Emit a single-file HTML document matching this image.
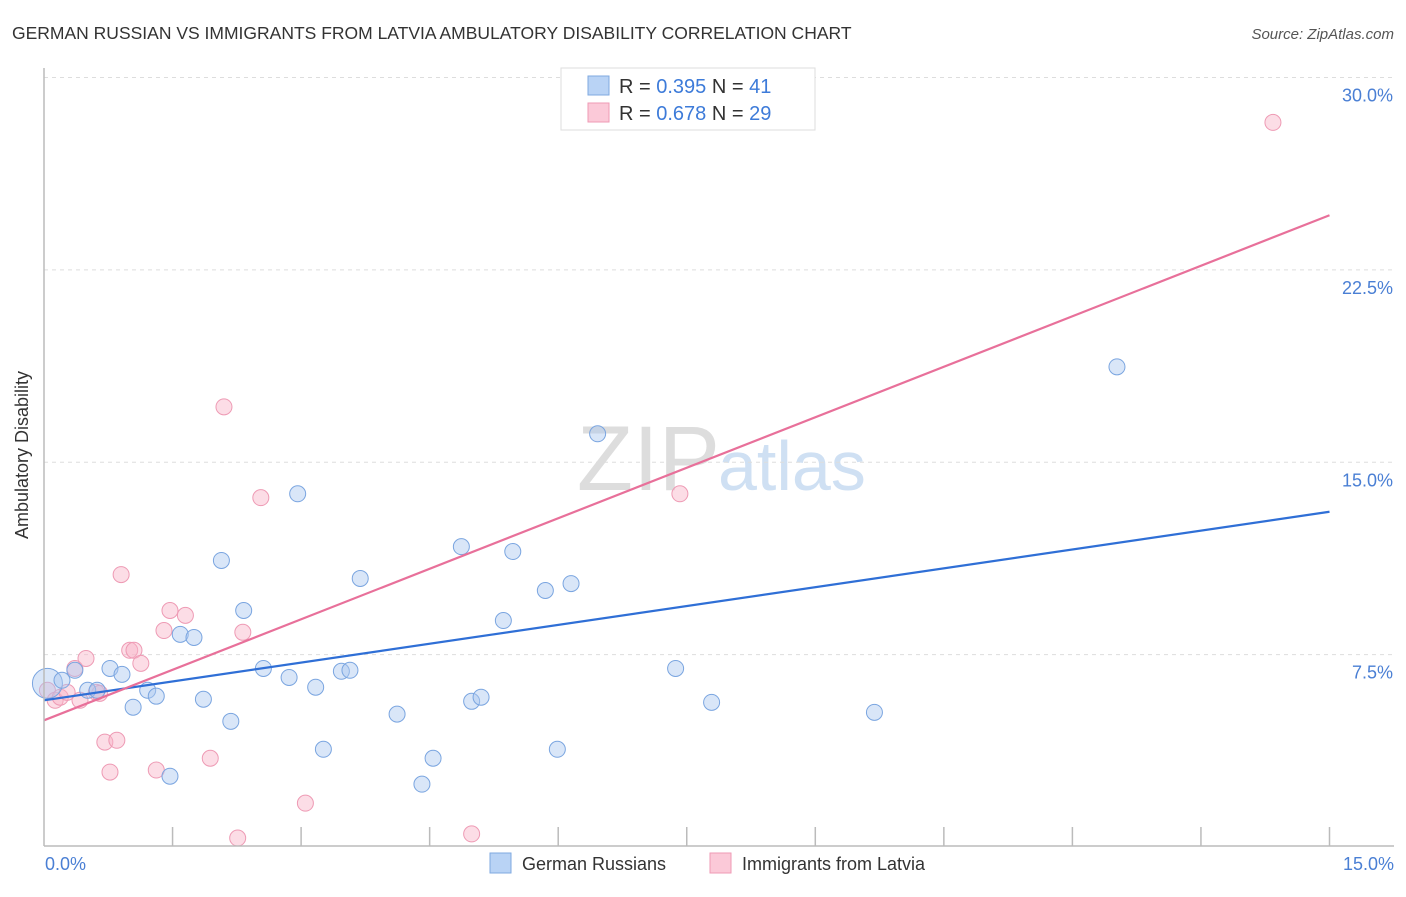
<!DOCTYPE html>
<html><head><meta charset="utf-8"><style>
body{margin:0;background:#fff;font-family:"Liberation Sans",sans-serif}
svg text{font-family:"Liberation Sans",sans-serif}
</style></head><body>
<svg id="c" width="1406" height="892">
<text x="12" y="39" font-size="17.5" fill="#333">GERMAN RUSSIAN VS IMMIGRANTS FROM LATVIA AMBULATORY DISABILITY CORRELATION CHART</text>
<text x="1394" y="39" font-size="15" fill="#555" font-style="italic" text-anchor="end">Source: ZipAtlas.com</text>
<text x="720" y="490" font-size="92" fill="#ddd" text-anchor="end" font-family="Liberation Serif">ZIP</text>
<text x="718" y="490" font-size="70" fill="#cfe0f3">atlas</text>
<g id="grid"></g><g id="pts"></g><g id="lines"></g>
<line x1="44" y1="68" x2="44" y2="846" stroke="#bbb" stroke-width="1.5"/>
<line x1="44" y1="846" x2="1394" y2="846" stroke="#bbb" stroke-width="1.5"/>
<text x="28" y="455" font-size="18" fill="#333" text-anchor="middle" transform="rotate(-90 28 455)">Ambulatory Disability</text>
<text x="45" y="870" font-size="18" fill="#4a7fd4">0.0%</text>
<text x="1394" y="870" font-size="18" fill="#4a7fd4" text-anchor="end">15.0%</text>
<g>
<rect x="561" y="68" width="254" height="62" fill="#fff" stroke="#ddd"/>
<rect x="588" y="76" width="21" height="19" fill="#b9d3f5" stroke="#7fa9e0"/>
<rect x="588" y="103" width="21" height="19" fill="#fbc9d8" stroke="#ef9ab5"/>
<text x="619" y="93" font-size="20" fill="#333">R = <tspan fill="#3d7bd9">0.395</tspan>   N =  <tspan fill="#3d7bd9">41</tspan></text>
<text x="619" y="120" font-size="20" fill="#333">R = <tspan fill="#3d7bd9">0.678</tspan>   N = <tspan fill="#3d7bd9">29</tspan></text>
</g>
<g>
<rect x="490" y="853" width="21" height="20" fill="#b9d3f5" stroke="#7fa9e0"/>
<text x="522" y="870" font-size="18" fill="#333">German Russians</text>
<rect x="710" y="853" width="21" height="20" fill="#fbc9d8" stroke="#ef9ab5"/>
<text x="742" y="870" font-size="18" fill="#333">Immigrants from Latvia</text>
</g>
</svg>
<script>
const yTicks=[7.5,15,22.5,30];
const yTickLabels=["7.5%","15.0%","22.5%","30.0%"];
const xTicks=[1.5,3,4.5,6,7.5,9,10.5,12,13.5,15];
const blueX=[0.04,0.21,0.36,0.77,0.91,0.51,0.62,1.04,1.21,1.31,1.47,1.59,1.75,1.86,2.07,2.18,2.33,2.56,2.86,2.96,3.17,3.26,3.47,3.57,3.69,4.12,4.54,4.41,4.87,4.99,5.10,5.36,5.47,5.85,5.99,6.15,6.46,7.37,7.79,9.69,12.52];
const blueY=[6.38,6.50,6.89,6.96,6.73,6.11,6.11,5.45,6.11,5.88,2.76,8.29,8.17,5.76,11.17,4.90,9.22,6.96,6.61,13.77,6.23,3.81,6.85,6.89,10.47,5.18,3.46,2.45,11.71,5.68,5.84,8.83,11.52,10.00,3.81,10.27,16.11,6.96,5.64,5.25,18.72];
const pinkX=[0.04,0.13,0.19,0.27,0.36,0.49,0.61,0.71,0.77,0.85,0.90,1.00,1.05,1.13,1.31,1.40,1.47,1.65,1.94,2.10,2.26,2.32,2.53,3.05,4.99,7.42,14.34,0.42,0.65];
const pinkY=[6.11,5.72,5.84,6.03,6.96,7.35,6.03,4.09,2.92,4.16,10.62,7.67,7.67,7.16,3.00,8.44,9.22,9.03,3.46,17.16,0.35,8.37,13.62,1.71,0.51,13.77,28.25,5.72,5.99];
const blueTrend=[5.72,13.07];
const pinkTrend=[4.94,24.63];
const X=v=>44+v*85.7, Y=v=>847-v*25.65;
const NS="http://www.w3.org/2000/svg";
function mk(t,a,p){const e=document.createElementNS(NS,t);for(const k in a)e.setAttribute(k,a[k]);p.appendChild(e);return e;}
const g=document.getElementById('grid');
yTicks.forEach((v,i)=>{
 const l=mk('line',{x1:44,x2:1394,y1:Y(v),y2:Y(v),stroke:'#ddd','stroke-dasharray':'4,4'},g);
 
 
 const t=mk('text',{x:1393,y:Y(v)+24,'font-size':18,fill:'#4a7fd4','text-anchor':'end'},g);
 t.textContent=yTickLabels[i];
 
 
});
xTicks.forEach(v=>{
 const l=mk('line',{x1:X(v),x2:X(v),y1:827,y2:846,stroke:'#bbb','stroke-width':1.5},g);
 
 
});
const p=document.getElementById('pts');
pinkX.forEach((x,i)=>{
 const c=mk('circle',{cx:X(x),cy:Y(pinkY[i]),r:8,fill:'rgba(248,180,200,0.45)',stroke:'#ee9ab4','stroke-width':1},p);
 
 
});
blueX.forEach((x,i)=>{
 const c=mk('circle',{cx:X(x),cy:Y(blueY[i]),r:i==0?15:8,fill:'rgba(170,200,240,0.45)',stroke:'#7aa5e0','stroke-width':1},p);
 
 
});
const L=document.getElementById('lines');
const b=mk('line',{x1:X(0),y1:Y(blueTrend[0]),x2:X(15),y2:Y(blueTrend[1]),stroke:'#2f6fd6','stroke-width':2.2},L);


const pk=mk('line',{x1:X(0),y1:Y(pinkTrend[0]),x2:X(15),y2:Y(pinkTrend[1]),stroke:'#e8709a','stroke-width':2.2},L);


</script>
</body></html>
